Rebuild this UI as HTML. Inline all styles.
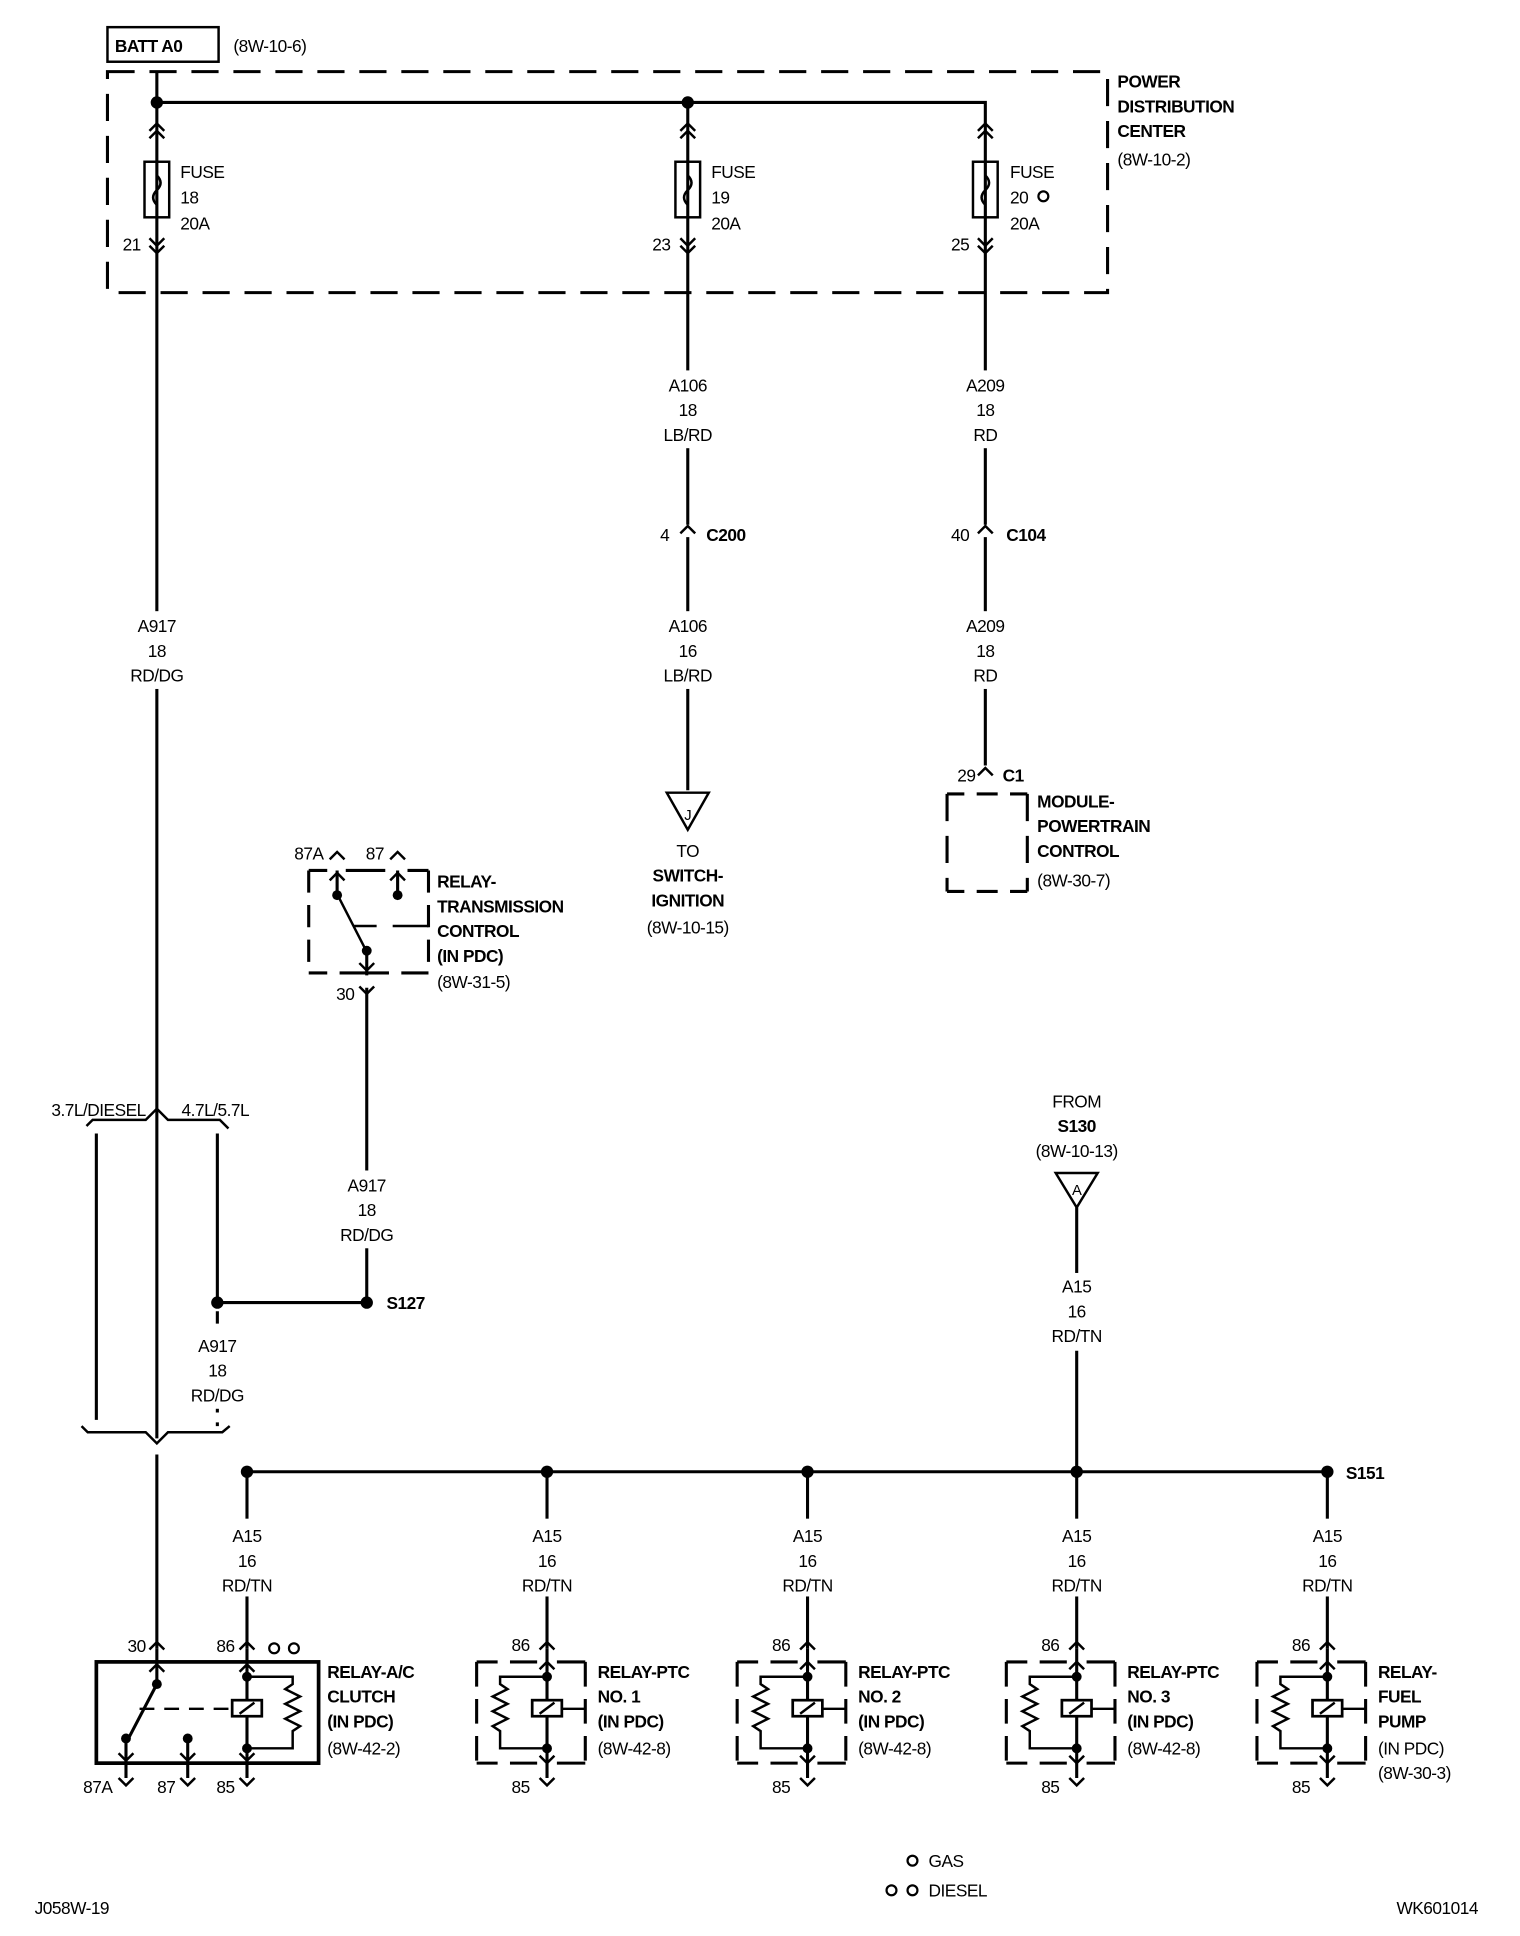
<!DOCTYPE html>
<html><head><meta charset="utf-8"><style>
html,body{margin:0;padding:0;background:#fff}
svg{display:block}
text{font-family:"Liberation Sans Narrow","Liberation Sans",sans-serif;font-size:14px;letter-spacing:-0.4px;fill:#000}
.b{font-weight:bold}
.m{text-anchor:middle}
.e{text-anchor:end}
</style></head><body>
<svg width="1520" height="1936" viewBox="0 0 1231 1568" xmlns="http://www.w3.org/2000/svg">
<defs>
<path id="up" d="M-6,6 L0,0 L6,6" fill="none" stroke="#000" stroke-width="2"/>
<path id="dn" d="M-6,-6 L0,0 L6,-6" fill="none" stroke="#000" stroke-width="2"/>
<g id="ptc">
 <path d="M-57,1346 V1428 M31,1346 V1428" fill="none" stroke="#000" stroke-width="2.5" stroke-dasharray="20,10"/>
 <path d="M-57,1346 H-40 M-30,1346 H-8 M8,1346 H31 M-57,1428 H-40 M-30,1428 H-8 M8,1428 H31" stroke="#000" stroke-width="2.5"/>
 <path d="M0,1335 V1440" stroke="#000" stroke-width="2.5"/>
 <path d="M0,1358 H-38 V1364 L-32,1368 L-44,1374 L-32,1380 L-44,1386 L-32,1392 L-44,1398 L-38,1402 V1416 H0" fill="none" stroke="#000" stroke-width="2"/>
 <rect x="-12" y="1377" width="24" height="13" fill="#fff" stroke="#000" stroke-width="2.2"/>
 <path d="M-6,1388 L6,1379 M12,1384 H31" stroke="#000" stroke-width="2"/>
 <circle cx="0" cy="1358" r="4"/><circle cx="0" cy="1416" r="4"/>
 <use href="#up" x="0" y="1346"/><use href="#dn" x="0" y="1428"/>
 <use href="#up" x="0" y="1330"/><use href="#dn" x="0" y="1446"/>
 <text x="-14" y="1337" class="e">86</text><text x="-14" y="1452" class="e">85</text>
</g>
</defs>
<g stroke="#000" stroke-width="2.5" fill="none">
 <rect x="87" y="22" width="90" height="28" stroke-width="2"/>
 <rect x="87" y="58" width="810" height="179" stroke-dasharray="22,12"/>
 <path d="M127,58 V1165 M127,83 H798 V100 M557,83 V425 M798,100 V425"/>
 <path d="M557,435 V640 M798,435 V620"/>
 <rect x="117" y="131" width="20" height="45" stroke-width="2"/>
 <rect x="547" y="131" width="20" height="45" stroke-width="2"/>
 <rect x="788" y="131" width="20" height="45" stroke-width="2"/>
 <path d="M540,642 H574 L557,672 Z" stroke-width="2"/>
 <path d="M767,643 V722 M832,643 V722" stroke-dasharray="22,12"/>
 <path d="M767,643 H781 M791,643 H808 M818,643 H832 M767,722 H781 M791,722 H808 M818,722 H832"/>
 <path d="M250,705 V788 M347,705 V788" stroke-dasharray="18,10"/>
 <path d="M250,705 H265 M280,705 H312 M330,705 H347 M250,788 H265 M275,788 H315 M325,788 H347"/>
 <path d="M273,705 V725 M322,705 V725 M297,770 V790 M297,800 V1055"/>
 <path d="M274,726 L296,769 M286,750 H305 M318,750 H347" stroke-width="2"/>
 <path d="M70,912 L75,907 H118 L127,898 L136,907 H178 L185,914" stroke-width="2"/>
 <path d="M78,918 V1150 M176,918 V1055 M176,1055 H297"/>
 <path d="M176,1062 V1155" stroke-dasharray="10,8"/>
 <path d="M66,1155 L71,1160 H118 L127,1169 L136,1160 H180 L186,1155" stroke-width="2"/>
 <path d="M127,1178 V1335"/>
 <path d="M200,1192 H1075 M872,978 V1192"/>
 <path d="M855,950 H889 L872,978 Z" stroke-width="2"/>
 <path d="M200,1192 V1335 M443,1192 V1335 M654,1192 V1335 M872,1192 V1335 M1075,1192 V1335"/>
 <rect x="78" y="1346" width="180" height="82" stroke-width="3"/>
 <path d="M127,1335 V1363 M127,1364 L104,1408 M102,1408 V1440 M152,1408 V1440 M200,1335 V1440"/>
 <path d="M113,1384 H188" stroke-dasharray="12,8" stroke-width="2"/>
 <path d="M200,1358 H237 V1364 L231,1368 L243,1374 L231,1380 L243,1386 L231,1392 L243,1398 L237,1402 V1416 H200" stroke-width="2"/>
 <rect x="188" y="1377" width="24" height="13" fill="#fff" stroke-width="2.2"/>
 <path d="M194,1388 L206,1379" stroke-width="2"/>
</g>
<g stroke="#000" stroke-width="2" fill="none">
 <path d="M127,131 V142 Q133,148 127,154 Q121,160 127,166 V176 M557,131 V142 Q563,148 557,154 Q551,160 557,166 V176 M798,131 V142 Q804,148 798,154 Q792,160 798,166 V176"/>
</g>
<use href="#up" x="127" y="100"/><use href="#up" x="127" y="106"/>
<use href="#up" x="557" y="100"/><use href="#up" x="557" y="106"/>
<use href="#up" x="798" y="100"/><use href="#up" x="798" y="106"/>
<use href="#dn" x="127" y="199"/><use href="#dn" x="127" y="205"/>
<use href="#dn" x="557" y="199"/><use href="#dn" x="557" y="205"/>
<use href="#dn" x="798" y="199"/><use href="#dn" x="798" y="205"/>
<use href="#up" x="557" y="426"/>
<use href="#up" x="798" y="426"/>
<use href="#up" x="798" y="622"/>
<use href="#up" x="273" y="690"/><use href="#up" x="322" y="690"/>
<use href="#up" x="273" y="707"/><use href="#up" x="322" y="707"/>
<use href="#dn" x="297" y="786"/><use href="#dn" x="297" y="805"/>
<use href="#up" x="127" y="1330"/><use href="#up" x="200" y="1330"/>
<use href="#up" x="127" y="1348"/><use href="#up" x="200" y="1348"/>
<use href="#dn" x="102" y="1426"/><use href="#dn" x="152" y="1426"/><use href="#dn" x="200" y="1426"/>
<use href="#dn" x="102" y="1446"/><use href="#dn" x="152" y="1446"/><use href="#dn" x="200" y="1446"/>
<g fill="#000">
<circle cx="127" cy="83" r="5"/><circle cx="557" cy="83" r="5"/>
<circle cx="273" cy="725" r="4"/><circle cx="322" cy="725" r="4"/><circle cx="297" cy="770" r="4"/>
<circle cx="176" cy="1055" r="5"/><circle cx="297" cy="1055" r="5"/>
<circle cx="200" cy="1192" r="5"/><circle cx="443" cy="1192" r="5"/><circle cx="654" cy="1192" r="5"/><circle cx="872" cy="1192" r="5"/><circle cx="1075" cy="1192" r="5"/>
<circle cx="127" cy="1364" r="4"/><circle cx="102" cy="1408" r="4"/><circle cx="152" cy="1408" r="4"/><circle cx="200" cy="1358" r="4"/><circle cx="200" cy="1416" r="4"/>
</g>
<use href="#ptc" x="443"/><use href="#ptc" x="654"/><use href="#ptc" x="872"/><use href="#ptc" x="1075"/>
<g fill="#fff">
<rect x="100" y="495" width="55" height="63"/><rect x="530" y="300" width="55" height="63"/><rect x="770" y="300" width="55" height="63"/>
<rect x="530" y="495" width="55" height="63"/><rect x="770" y="495" width="55" height="63"/>
<rect x="270" y="948" width="55" height="63"/><rect x="150" y="1078" width="55" height="63"/>
<rect x="845" y="1031" width="55" height="63"/>
<rect x="173" y="1230" width="55" height="63"/><rect x="416" y="1230" width="55" height="63"/><rect x="627" y="1230" width="55" height="63"/><rect x="845" y="1230" width="55" height="63"/><rect x="1048" y="1230" width="55" height="63"/>
</g>
<text x="93" y="42" class="b">BATT A0</text>
<text x="189" y="42">(8W-10-6)</text>
<text x="905" y="71" class="b">POWER</text><text x="905" y="91" class="b">DISTRIBUTION</text><text x="905" y="111" class="b">CENTER</text><text x="905" y="134">(8W-10-2)</text>
<text x="146" y="144">FUSE</text><text x="146" y="165">18</text><text x="146" y="186">20A</text>
<text x="576" y="144">FUSE</text><text x="576" y="165">19</text><text x="576" y="186">20A</text>
<text x="818" y="144">FUSE</text><text x="818" y="165">20</text><text x="818" y="186">20A</text>
<circle cx="845" cy="159" r="4" fill="none" stroke="#000" stroke-width="1.8"/>
<text x="114" y="203" class="e">21</text><text x="543" y="203" class="e">23</text><text x="785" y="203" class="e">25</text>
<text x="127" y="512" class="m">A917</text><text x="127" y="532" class="m">18</text><text x="127" y="552" class="m">RD/DG</text>
<text x="557" y="317" class="m">A106</text><text x="557" y="337" class="m">18</text><text x="557" y="357" class="m">LB/RD</text>
<text x="798" y="317" class="m">A209</text><text x="798" y="337" class="m">18</text><text x="798" y="357" class="m">RD</text>
<text x="557" y="512" class="m">A106</text><text x="557" y="532" class="m">16</text><text x="557" y="552" class="m">LB/RD</text>
<text x="798" y="512" class="m">A209</text><text x="798" y="532" class="m">18</text><text x="798" y="552" class="m">RD</text>
<text x="297" y="965" class="m">A917</text><text x="297" y="985" class="m">18</text><text x="297" y="1005" class="m">RD/DG</text>
<text x="176" y="1095" class="m">A917</text><text x="176" y="1115" class="m">18</text><text x="176" y="1135" class="m">RD/DG</text>
<text x="872" y="1047" class="m">A15</text><text x="872" y="1067" class="m">16</text><text x="872" y="1087" class="m">RD/TN</text>
<text x="200" y="1249" class="m">A15</text><text x="200" y="1269" class="m">16</text><text x="200" y="1289" class="m">RD/TN</text>
<text x="443" y="1249" class="m">A15</text><text x="443" y="1269" class="m">16</text><text x="443" y="1289" class="m">RD/TN</text>
<text x="654" y="1249" class="m">A15</text><text x="654" y="1269" class="m">16</text><text x="654" y="1289" class="m">RD/TN</text>
<text x="872" y="1249" class="m">A15</text><text x="872" y="1269" class="m">16</text><text x="872" y="1289" class="m">RD/TN</text>
<text x="1075" y="1249" class="m">A15</text><text x="1075" y="1269" class="m">16</text><text x="1075" y="1289" class="m">RD/TN</text>
<text x="557" y="694" class="m">TO</text><text x="557" y="714" class="m b">SWITCH-</text><text x="557" y="734" class="m b">IGNITION</text><text x="557" y="756" class="m">(8W-10-15)</text>
<text x="872" y="897" class="m">FROM</text><text x="872" y="917" class="m b">S130</text><text x="872" y="937" class="m">(8W-10-13)</text>
<text x="557" y="664" class="m" style="font-size:12px">J</text>
<text x="872" y="968" class="m" style="font-size:12px">A</text>
<text x="542" y="438" class="e">4</text><text x="572" y="438" class="b">C200</text>
<text x="785" y="438" class="e">40</text><text x="815" y="438" class="b">C104</text>
<text x="790" y="633" class="e">29</text><text x="812" y="633" class="b">C1</text>
<text x="840" y="654" class="b">MODULE-</text><text x="840" y="674" class="b">POWERTRAIN</text><text x="840" y="694" class="b">CONTROL</text><text x="840" y="718">(8W-30-7)</text>
<text x="262" y="696" class="e">87A</text><text x="311" y="696" class="e">87</text>
<text x="354" y="719" class="b">RELAY-</text><text x="354" y="739" class="b">TRANSMISSION</text><text x="354" y="759" class="b">CONTROL</text><text x="354" y="779" class="b">(IN PDC)</text><text x="354" y="800">(8W-31-5)</text>
<text x="287" y="810" class="e">30</text>
<text x="118" y="904" class="e">3.7L/DIESEL</text><text x="147" y="904">4.7L/5.7L</text>
<text x="313" y="1060" class="b">S127</text><text x="1090" y="1198" class="b">S151</text>
<text x="118" y="1338" class="e">30</text><text x="190" y="1338" class="e">86</text>
<circle cx="222" cy="1335" r="4" fill="none" stroke="#000" stroke-width="1.8"/><circle cx="238" cy="1335" r="4" fill="none" stroke="#000" stroke-width="1.8"/>
<text x="91" y="1452" class="e">87A</text><text x="142" y="1452" class="e">87</text><text x="190" y="1452" class="e">85</text>
<text x="265" y="1359" class="b">RELAY-A/C</text><text x="265" y="1379" class="b">CLUTCH</text><text x="265" y="1399" class="b">(IN PDC)</text><text x="265" y="1421">(8W-42-2)</text>
<text x="484" y="1359" class="b">RELAY-PTC</text><text x="484" y="1379" class="b">NO. 1</text><text x="484" y="1399" class="b">(IN PDC)</text><text x="484" y="1421">(8W-42-8)</text>
<text x="695" y="1359" class="b">RELAY-PTC</text><text x="695" y="1379" class="b">NO. 2</text><text x="695" y="1399" class="b">(IN PDC)</text><text x="695" y="1421">(8W-42-8)</text>
<text x="913" y="1359" class="b">RELAY-PTC</text><text x="913" y="1379" class="b">NO. 3</text><text x="913" y="1399" class="b">(IN PDC)</text><text x="913" y="1421">(8W-42-8)</text>
<text x="1116" y="1359" class="b">RELAY-</text><text x="1116" y="1379" class="b">FUEL</text><text x="1116" y="1399" class="b">PUMP</text><text x="1116" y="1421">(IN PDC)</text><text x="1116" y="1441">(8W-30-3)</text>
<circle cx="739" cy="1507" r="4" fill="none" stroke="#000" stroke-width="1.8"/><text x="752" y="1512">GAS</text>
<circle cx="722" cy="1531" r="4" fill="none" stroke="#000" stroke-width="1.8"/><circle cx="739" cy="1531" r="4" fill="none" stroke="#000" stroke-width="1.8"/><text x="752" y="1536">DIESEL</text>
<text x="28" y="1550">J058W-19</text><text x="1197" y="1550" class="e">WK601014</text>
</svg>
</body></html>
